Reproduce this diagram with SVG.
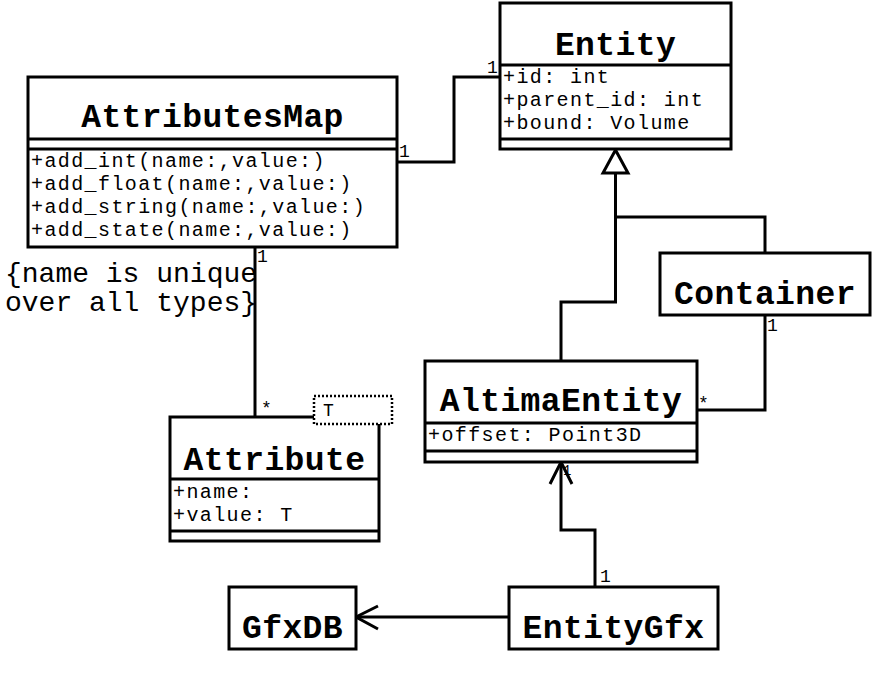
<svg xmlns="http://www.w3.org/2000/svg" width="873" height="675" viewBox="0 0 873 675">
<style>
.box{fill:#fff;stroke:#000;stroke-width:3}
.ln{fill:none;stroke:#000;stroke-width:3}
.title{font-family:"Liberation Mono",monospace;font-weight:bold;font-size:33px;letter-spacing:0.4px;text-anchor:middle;fill:#000}
.attr{font-family:"Liberation Mono",monospace;font-size:20px;letter-spacing:1.4px;fill:#000}
.mult{font-family:"Liberation Mono",monospace;font-size:18px;fill:#000}
.note{font-family:"Liberation Mono",monospace;font-size:28px;fill:#000}
</style>
<rect width="873" height="675" fill="#fff"/>
<g id="connectors">
  <polyline class="ln" points="397,162 454,162 454,77 500,77"/>
  <line class="ln" x1="255" y1="247" x2="255" y2="417"/>
  <polyline class="ln" points="615.5,173 615.5,302 561,302 561,361"/>
  <polyline class="ln" points="615.5,217 765,217 765,253"/>
  <polygon points="615.5,150 603,173 628,173" fill="#fff" stroke="#000" stroke-width="3"/>
  <polyline class="ln" points="765,315 765,410 697,410"/>
  <polyline class="ln" points="595,587 595,530 561,530 561,462"/>
  <polyline class="ln" points="550,484 561,462 572,484"/>
  <line class="ln" x1="509" y1="617" x2="356" y2="617"/>
  <polyline class="ln" points="378,606 356,617 378,629"/>
  <text class="mult" x="399" y="157">1</text>
  <text class="mult" x="487" y="73">1</text>
  <text class="mult" x="257" y="262">1</text>
  <text class="mult" x="261" y="414">*</text>
  <text class="mult" x="767" y="331">1</text>
  <text class="mult" x="698" y="409">*</text>
  <text class="mult" x="563" y="475" style="font-size:14px">1</text>
  <text class="mult" x="600" y="582">1</text>
</g>
<g id="Entity">
  <rect class="box" x="500" y="3" width="231" height="146"/>
  <line class="ln" x1="500" y1="65" x2="731" y2="65"/>
  <line class="ln" x1="500" y1="139" x2="731" y2="139"/>
  <text class="title" x="615.5" y="55">Entity</text>
  <text class="attr" x="503" y="83">+id: int</text>
  <text class="attr" x="503" y="106">+parent_id: int</text>
  <text class="attr" x="503" y="129">+bound: Volume</text>
</g>
<g id="AttributesMap">
  <rect class="box" x="28" y="77" width="369" height="170"/>
  <line class="ln" x1="28" y1="139" x2="397" y2="139"/>
  <line class="ln" x1="28" y1="149" x2="397" y2="149"/>
  <text class="title" x="212.5" y="127">AttributesMap</text>
  <text class="attr" x="31" y="167">+add_int(name:,value:)</text>
  <text class="attr" x="31" y="190">+add_float(name:,value:)</text>
  <text class="attr" x="31" y="213">+add_string(name:,value:)</text>
  <text class="attr" x="31" y="236">+add_state(name:,value:)</text>
</g>
<g id="note">
  <text class="note" x="5" y="282">{name is unique</text>
  <text class="note" x="5" y="311">over all types}</text>
</g>
<g id="Attribute">
  <rect class="box" x="170" y="417" width="209" height="124"/>
  <line class="ln" x1="170" y1="479" x2="379" y2="479"/>
  <line class="ln" x1="170" y1="531" x2="379" y2="531"/>
  <text class="title" x="274.5" y="470">Attribute</text>
  <text class="attr" x="173" y="498">+name:</text>
  <text class="attr" x="173" y="521">+value: T</text>
  <rect x="314" y="396" width="78" height="28" fill="#fff" stroke="#000" stroke-width="2.5" stroke-dasharray="2,2"/>
  <text class="mult" x="323" y="416">T</text>
</g>
<g id="Container">
  <rect class="box" x="660" y="253" width="210" height="62"/>
  <text class="title" x="765" y="304">Container</text>
</g>
<g id="AltimaEntity">
  <rect class="box" x="425" y="361" width="272" height="101"/>
  <line class="ln" x1="425" y1="423" x2="697" y2="423"/>
  <line class="ln" x1="425" y1="451" x2="697" y2="451"/>
  <text class="title" x="561" y="411">AltimaEntity</text>
  <text class="attr" x="428" y="441">+offset: Point3D</text>
</g>
<g id="GfxDB">
  <rect class="box" x="229" y="587" width="127" height="62"/>
  <text class="title" x="292.5" y="638">GfxDB</text>
</g>
<g id="EntityGfx">
  <rect class="box" x="509" y="587" width="209" height="62"/>
  <text class="title" x="613.5" y="638">EntityGfx</text>
</g>
</svg>
